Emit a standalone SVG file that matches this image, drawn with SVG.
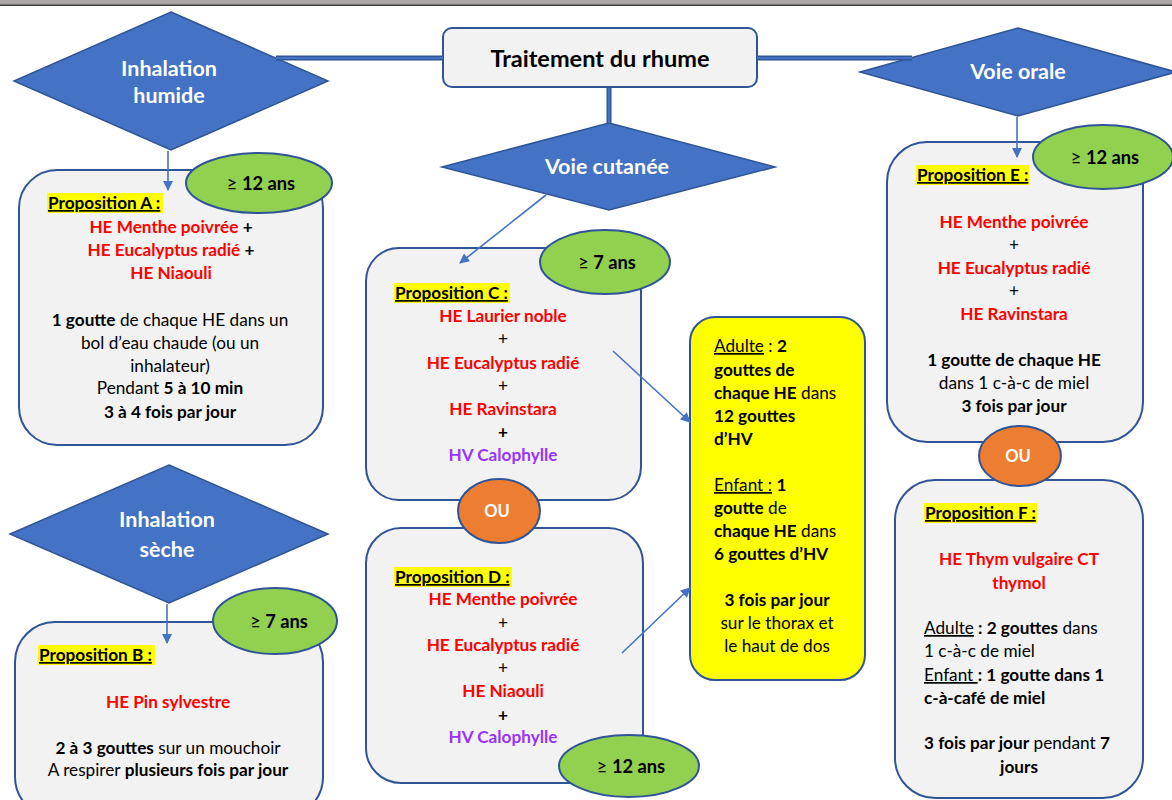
<svg xmlns="http://www.w3.org/2000/svg" width="1172" height="800" viewBox="0 0 1172 800">
<style>
text{font-family:Lato,"Liberation Sans",sans-serif;font-size:17.2px;fill:#000}
.box{fill:#f2f2f2;stroke:#2f5597;stroke-width:2}
.dia{fill:#4472c4;stroke:#2f5597;stroke-width:1.5}
.age{fill:#92d050;stroke:#2f5597;stroke-width:2}
.ou{fill:#ed7d31;stroke:#2f5597;stroke-width:2}
.yel{fill:#ffff00;stroke:#2f5597;stroke-width:2}
.hl{fill:#ffff00}
.b{font-weight:bold}
.r{fill:#ff0000;font-weight:bold}
.p{fill:#9933ff;font-weight:bold}
.dt{fill:#fff;font-weight:bold;font-size:21.5px}
.ot{fill:#fff;font-weight:bold;font-size:16.5px}
.at{font-weight:bold;font-size:18.3px}
.u{text-decoration:underline}
.m{text-anchor:middle}
.dl1{stroke:#2f5597;stroke-width:5;fill:none}
.dl2{stroke:#4472c4;stroke-width:2.2;fill:none}
.ar{stroke:#4472c4;stroke-width:1.6;fill:none;marker-end:url(#ah)}
</style>
<defs>
<marker id="ah" viewBox="0 0 10 10" refX="9" refY="5" markerWidth="11" markerHeight="10" markerUnits="userSpaceOnUse" orient="auto">
<path d="M0,0 L10,5 L0,10 z" fill="#4472c4"/>
</marker>
</defs>
<rect x="0" y="0" width="1172" height="4.5" fill="#aba7a6"/>
<rect x="0" y="4.5" width="1172" height="1.3" fill="#111"/>

<g id="title">
<rect x="443" y="28" width="314" height="59" rx="9" class="box"/>
<text x="600" y="67" class="b m" style="font-size:23.5px">Traitement du rhume</text>
</g>

<g id="d-humide">
<polygon points="171,12 328,81 171,150 14,81" class="dia"/>
<text x="169" y="76" class="dt m">Inhalation</text>
<text x="169" y="103" class="dt m">humide</text>
</g>

<g id="d-cutanee">
<polygon points="609,123 775,167 609,210 442,167" class="dia"/>
<text x="607" y="174" class="dt m">Voie cutanée</text>
</g>

<g id="d-orale">
<polygon points="1018,28 1176,72 1018,116 860,72" class="dia"/>
<text x="1018" y="79" class="dt m">Voie orale</text>
</g>

<g id="d-seche">
<polygon points="169,465 328,534 169,603 10,534" class="dia"/>
<text x="167" y="527" class="dt m">Inhalation</text>
<text x="167" y="557" class="dt m">sèche</text>
</g>

<g id="prop-a">
<rect x="19" y="170" width="304" height="275" rx="38" class="box"/>
<rect x="47" y="193" width="116" height="20" class="hl"/>
<text x="48" y="209" class="b u">Proposition A :</text>
<text x="171" y="233" class="m"><tspan class="r">HE Menthe poivrée</tspan><tspan class="b"> +</tspan></text>
<text x="171" y="256" class="m"><tspan class="r">HE Eucalyptus radié</tspan><tspan class="b"> +</tspan></text>
<text x="171" y="279" class="m r">HE Niaouli</text>
<text x="170" y="326" class="m"><tspan class="b">1 goutte</tspan> de chaque HE dans un</text>
<text x="170" y="349" class="m">bol d’eau chaude (ou un</text>
<text x="170" y="372" class="m">inhalateur)</text>
<text x="170" y="394" class="m">Pendant <tspan class="b">5 à 10 min</tspan></text>
<text x="170" y="418" class="m b">3 à 4 fois par jour</text>
</g>
<g id="age-a">
<ellipse cx="259" cy="183" rx="73" ry="30" class="age"/>
<text x="261" y="189.5" class="m at"><tspan style="font-weight:normal">≥</tspan> 12 ans</text>
</g>

<g id="prop-b">
<rect x="15" y="622" width="308" height="195" rx="40" class="box"/>
<rect x="38" y="645" width="117" height="20" class="hl"/>
<text x="39" y="661" class="b u">Proposition B :</text>
<text x="168" y="708" class="m r">HE Pin sylvestre</text>
<text x="168" y="754" class="m"><tspan class="b">2 à 3 gouttes</tspan> sur un mouchoir</text>
<text x="168" y="776" class="m">A respirer <tspan class="b">plusieurs fois par jour</tspan></text>
</g>
<g id="age-b">
<ellipse cx="275" cy="621" rx="62" ry="33" class="age"/>
<text x="279" y="627.5" class="m at"><tspan style="font-weight:normal">≥</tspan> 7 ans</text>
</g>

<g id="prop-c">
<rect x="366" y="248" width="275" height="252" rx="33" class="box"/>
<rect x="394" y="283" width="116" height="20" class="hl"/>
<text x="395" y="299" class="b u">Proposition C :</text>
<text x="503" y="322" class="m r">HE Laurier noble</text>
<text x="503" y="345" class="m">+</text>
<text x="503" y="369" class="m r">HE Eucalyptus radié</text>
<text x="503" y="392" class="m">+</text>
<text x="503" y="415" class="m r">HE Ravinstara</text>
<text x="503" y="438" class="m b">+</text>
<text x="503" y="461" class="m p">HV Calophylle</text>
</g>
<g id="age-c">
<ellipse cx="605" cy="262" rx="65" ry="32" class="age"/>
<text x="607" y="268.5" class="m at"><tspan style="font-weight:normal">≥</tspan> 7 ans</text>
</g>

<g id="prop-d">
<rect x="366" y="528" width="277" height="255" rx="35" class="box"/>
<rect x="394" y="567" width="118" height="20" class="hl"/>
<text x="395" y="583" class="b u">Proposition D :</text>
<text x="503" y="605" class="m r">HE Menthe poivrée</text>
<text x="503" y="629" class="m">+</text>
<text x="503" y="651" class="m r">HE Eucalyptus radié</text>
<text x="503" y="674" class="m">+</text>
<text x="503" y="697" class="m r">HE Niaouli</text>
<text x="503" y="721" class="m b">+</text>
<text x="503" y="743" class="m p">HV Calophylle</text>
</g>
<g id="ou-cd">
<ellipse cx="499" cy="511" rx="41" ry="32" class="ou"/>
<text x="497" y="517" class="m ot">OU</text>
</g>
<g id="age-d">
<ellipse cx="629" cy="766" rx="70" ry="31" class="age"/>
<text x="631" y="772.5" class="m at"><tspan style="font-weight:normal">≥</tspan> 12 ans</text>
</g>

<g id="cutanee-dose">
<rect x="690" y="317" width="175" height="363" rx="25" class="yel"/>
<text x="714" y="352"><tspan class="u">Adulte</tspan> : <tspan class="b">2</tspan></text>
<text x="714" y="376" class="b">gouttes de</text>
<text x="714" y="399"><tspan class="b">chaque HE</tspan> dans</text>
<text x="714" y="422" class="b">12 gouttes</text>
<text x="714" y="445" class="b">d’HV</text>
<text x="714" y="491"><tspan class="u">Enfant :</tspan> <tspan class="b">1</tspan></text>
<text x="714" y="514"><tspan class="b">goutte</tspan> de</text>
<text x="714" y="537"><tspan class="b">chaque HE</tspan> dans</text>
<text x="714" y="560" class="b">6 gouttes d’HV</text>
<text x="777" y="606" class="m b">3 fois par jour</text>
<text x="777" y="629" class="m">sur le thorax et</text>
<text x="777" y="652" class="m">le haut de dos</text>
</g>

<g id="prop-e">
<rect x="887" y="142" width="256" height="300" rx="40" class="box"/>
<rect x="916" y="165" width="113" height="20" class="hl"/>
<text x="917" y="181" class="b u">Proposition E :</text>
<text x="1014" y="228" class="m r">HE Menthe poivrée</text>
<text x="1014" y="251" class="m">+</text>
<text x="1014" y="274" class="m r">HE Eucalyptus radié</text>
<text x="1014" y="297" class="m">+</text>
<text x="1014" y="320" class="m r">HE Ravinstara</text>
<text x="1014" y="366" class="m b">1 goutte de chaque HE</text>
<text x="1014" y="389" class="m">dans 1 c-à-c de miel</text>
<text x="1014" y="412" class="m b">3 fois par jour</text>
</g>
<g id="age-e">
<ellipse cx="1103" cy="157" rx="70" ry="32" class="age"/>
<text x="1105" y="163.5" class="m at"><tspan style="font-weight:normal">≥</tspan> 12 ans</text>
</g>

<g id="prop-f">
<rect x="895" y="480" width="248" height="318" rx="40" class="box"/>
<rect x="924" y="503" width="113" height="20" class="hl"/>
<text x="925" y="519" class="b u">Proposition F :</text>
<text x="1019" y="565" class="m r">HE Thym vulgaire CT</text>
<text x="1019" y="589" class="m r">thymol</text>
<text x="924" y="634"><tspan class="u">Adulte</tspan><tspan class="b"> : 2 gouttes</tspan> dans</text>
<text x="924" y="657">1 c-à-c de miel</text>
<text x="924" y="681"><tspan class="u">Enfant </tspan><tspan class="b">: 1 goutte dans 1</tspan></text>
<text x="924" y="704" class="b">c-à-café de miel</text>
<text x="924" y="749"><tspan class="b">3 fois par jour</tspan> pendant <tspan class="b">7</tspan></text>
<text x="1019" y="773" class="m b">jours</text>
</g>
<g id="ou-ef">
<ellipse cx="1020" cy="456" rx="41" ry="30" class="ou"/>
<text x="1018" y="462" class="m ot">OU</text>
</g>

<g id="connectors">
<line x1="276" y1="58" x2="443" y2="58" class="dl1"/>
<line x1="276" y1="58" x2="443" y2="58" class="dl2"/>
<line x1="757" y1="58" x2="912" y2="58" class="dl1"/>
<line x1="757" y1="58" x2="912" y2="58" class="dl2"/>
<line x1="609" y1="88" x2="609" y2="123" class="dl1"/>
<line x1="609" y1="88" x2="609" y2="123" class="dl2"/>
<line x1="168" y1="151" x2="168" y2="190" class="ar"/>
<line x1="546" y1="195" x2="460" y2="263" class="ar"/>
<line x1="1017" y1="117" x2="1017" y2="157" class="ar"/>
<line x1="167" y1="604" x2="167" y2="643" class="ar"/>
<line x1="613" y1="351" x2="690" y2="422" class="ar"/>
<line x1="622" y1="653" x2="690" y2="588" class="ar"/>
</g>
</svg>
